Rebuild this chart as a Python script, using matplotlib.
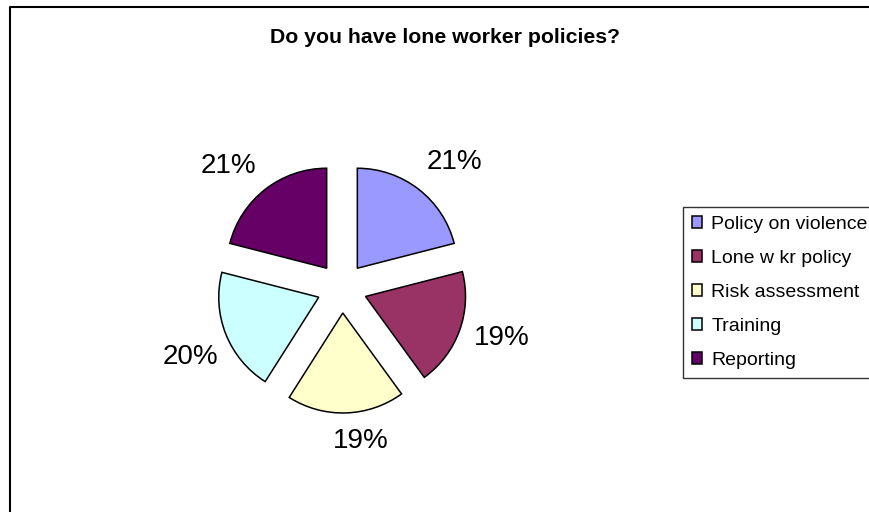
import matplotlib.pyplot as plt
import numpy as np
from matplotlib.lines import Line2D

plt.rcParams['font.family'] = ['Liberation Sans', 'DejaVu Sans']

# Survey answers (share of responses)
categories = ['Policy on violence', 'Lone w kr policy', 'Risk assessment',
              'Training', 'Reporting']
shares = [21, 19, 19, 20, 21]
slice_colors = ['#9999FF', '#993366', '#FFFFCC', '#CCFFFF', '#660066']
title = 'Do you have lone worker policies?'

# label placement: distance from wedge centre (radius units), angle tweak (deg)
label_dist = [1.44, 1.42, 1.29, 1.42, 1.42]
label_turn = [-4.8, 2.8, 6.3, 3.3, 6.2]

W, H = 869, 512
cx, cy, R = 342, 288, 100  # pie centre / radius in pixels

fig = plt.figure(figsize=(W / 100, H / 100), dpi=100)
ax = fig.add_axes([0, 0, 1, 1])

wedges, _, pct_texts = ax.pie(
    shares, colors=slice_colors, startangle=90, counterclock=False,
    explode=[0.25] * len(shares), radius=1,
    wedgeprops=dict(edgecolor='black', linewidth=1.1),
    autopct='%1.0f%%', pctdistance=1.42,
    textprops=dict(fontsize=20, color='black'))

for w, t, d, turn in zip(wedges, pct_texts, label_dist, label_turn):
    mid = np.deg2rad((w.theta1 + w.theta2) / 2 + turn)
    x0, y0 = w.center
    t.set_position((x0 + d * np.cos(mid), y0 + d * np.sin(mid)))
    t.set_ha('center')
    t.set_va('center')

ax.set_xlim(-cx / R, (W - cx) / R)
ax.set_ylim(-(H - cy) / R, cy / R)
ax.set_aspect('equal')
ax.axis('off')

fig.text(445 / W, 1 - 37.5 / H, title, ha='center', va='center',
         fontsize=15.3, fontweight='bold')

# chart area border (runs off the right and bottom edges)
fig.add_artist(Line2D([9.5 / W, 9.5 / W, 1.01], [-0.01, 1 - 6.5 / H, 1 - 6.5 / H],
                      color='black', linewidth=1.5, transform=fig.transFigure))

leg = ax.legend(wedges, categories, loc='upper left',
                bbox_to_anchor=(683 / W, 1 - 207 / H), bbox_transform=fig.transFigure,
                fontsize=14, frameon=True, fancybox=False, edgecolor='black',
                borderaxespad=0, borderpad=0.45, handlelength=0.55,
                handleheight=0.55, handletextpad=0.45, labelspacing=0.88)
leg.get_frame().set_linewidth(1.0)

fig.savefig('out.png', dpi=100)
